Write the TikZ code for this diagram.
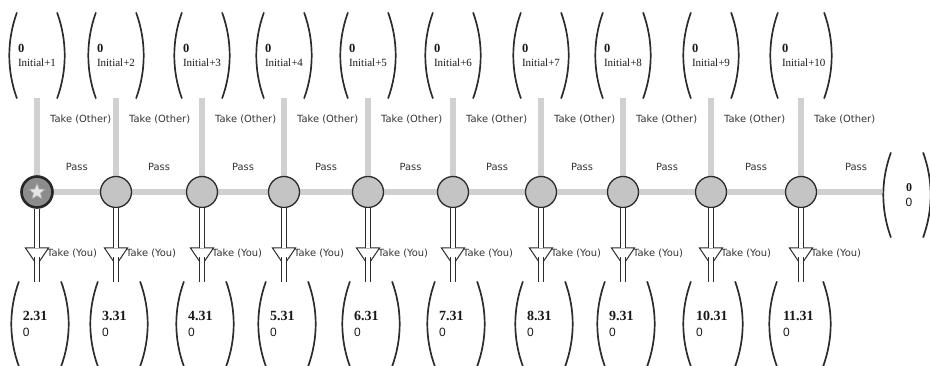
\documentclass[tikz,border=0pt]{standalone}
\usepackage{fontspec}
\setmainfont{Liberation Serif}
\newfontfamily\lblfont{DejaVu Sans}
\newfontfamily\numsans{Liberation Sans}
\usetikzlibrary{shapes.geometric,backgrounds}

\definecolor{barc}{HTML}{D0D0D0}
\definecolor{ink}{HTML}{2C2C2C}
\definecolor{nodegray}{HTML}{C4C4C4}
\definecolor{rootgray}{HTML}{8C8C8C}
\definecolor{starc}{HTML}{E6E6E6}

% a pair of round brackets drawn around a payoff node
\newcommand\parenpair[1]{%
  \draw[paren] ([xshift=7pt]#1.north west)
    .. controls ([xshift=-3pt,yshift=-28pt]#1.north west) and ([xshift=-3pt,yshift=28pt]#1.south west)
    .. ([xshift=7pt]#1.south west);
  \draw[paren] ([xshift=-7pt]#1.north east)
    .. controls ([xshift=3pt,yshift=-28pt]#1.north east) and ([xshift=3pt,yshift=28pt]#1.south east)
    .. ([xshift=-7pt]#1.south east);}

\begin{document}
\begin{tikzpicture}[x=1pt,y=-1pt,
  bar/.style={draw=barc,line width=6.5pt},
  dec/.style={circle,draw=ink,line width=1.3pt,fill=nodegray,minimum size=31pt,inner sep=0pt},
  rootnode/.style={dec,fill=rootgray,draw=black!85,line width=2.6pt},
  paren/.style={draw=ink,line width=1.7pt,line cap=round},
  payoff/.style={inner sep=0pt,align=left,text=black!90},
  lbl/.style={font=\lblfont\fontsize{9.9}{11}\selectfont,text=black!80,inner sep=0pt},
  dbl/.style={draw=ink,line width=0.9pt,double=white,double distance=3.8pt},
  tri/.style={draw=ink,line width=1pt,fill=white,line join=miter},
]
\useasboundingbox (0,0) rectangle (930,366);

% terminal payoff when every player passes
\node[payoff,align=center,font=\fontsize{12}{15}\selectfont,
      minimum width=46pt,minimum height=84pt] (term) at (907,195)
      {\hspace*{4pt}\textbf{0}\\ \hspace*{4pt}{\numsans 0}};
\parenpair{term}

% decision stages: top payoff (other takes), decision node, bottom payoff (you take)
\foreach \x/\bx/\v/\tw/\bw [count=\i] in
  {37/40/2.31/54/56, 116/119/3.31/54/56, 202/205/4.31/54/56,
   284/287/5.31/54/56, 368/371/6.31/54/56, 453/456/7.31/54/56,
   541/544/8.31/54/56, 623/626/9.31/54/56, 711/713/10.31/54/58,
   801/800/11.31/60/60}{
  \node[payoff,font=\fontsize{11}{14}\selectfont,
        minimum width=\tw pt,minimum height=85pt,text width=38pt] (t\i) at (\x,55.5)
        {{\fontsize{12.5}{14}\selectfont\bfseries 0}\\ Initial+\i};
  \parenpair{t\i}
  \ifnum\i=1
    \node[rootnode] (d\i) at (\x,192) {};
    \node[star,star points=5,star point ratio=2.3,fill=starc,draw=black!35,
          line width=0.6pt,minimum size=17pt,inner sep=0pt] (s\i) at (d\i) {};
  \else
    \node[dec] (d\i) at (\x,192) {};
  \fi
  \node[payoff,font=\fontsize{12}{15.5}\selectfont,
        minimum width=\bw pt,minimum height=84pt,text width=34pt] (b\i) at (\bx,324)
        {{\fontsize{14}{15.5}\selectfont\bfseries \v}\\ {\numsans 0}};
  \parenpair{b\i}
  \node[lbl,anchor=west] (o\i) at (\x+13,119) {Take (Other)};
  \node[lbl,anchor=west] (y\i) at (\x+10,253) {Take (You)};
  \coordinate (a\i) at (\x,256.5);
  \draw[tri] ([shift={(-11.5,-8.5)}]a\i) -- ([shift={(11.5,-8.5)}]a\i)
             -- ([shift={(0,8.5)}]a\i) -- cycle;
  \draw[dbl] ([shift={(0,1)}]a\i) -- (a\i |- b\i.north);
  \draw[dbl] (d\i.south) -- ([shift={(0,-8.5)}]a\i);
}

% pass labels between successive decision nodes
\foreach \i [evaluate=\i as \j using int(\i+1)] in {1,...,9}
  \path (d\i) -- (d\j) node[midway,yshift=25pt,lbl] (p\i) {Pass};
\node[lbl] (p10) at (856,167) {Pass};

% wide grey tracks behind the nodes
\begin{pgfonlayer}{background}
  \foreach \i in {1,...,10}
    \draw[bar] (t\i.south) -- (d\i.center);
  \foreach \i [evaluate=\i as \j using int(\i+1)] in {1,...,9}
    \draw[bar] (d\i.center) -- (d\j.center);
  \draw[bar] (d10.center) -- ([xshift=-2pt]term.west |- d10.center);
\end{pgfonlayer}
\end{tikzpicture}
\end{document}
